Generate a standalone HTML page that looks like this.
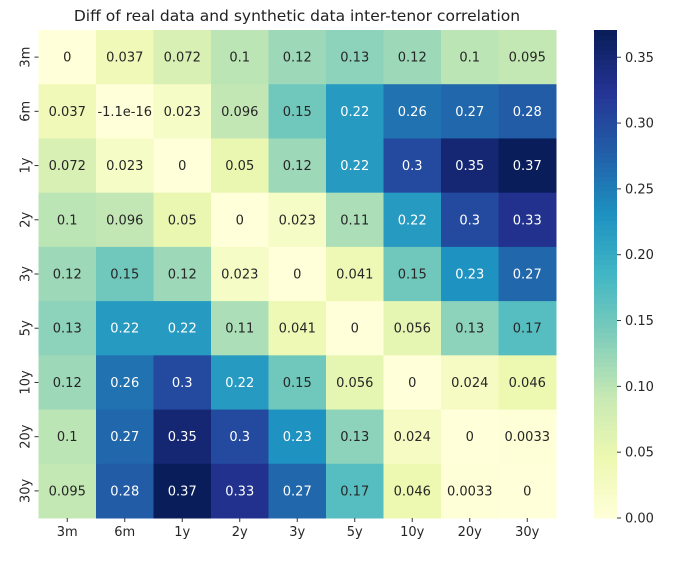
<!DOCTYPE html>
<html><head><meta charset="utf-8"><style>
body{margin:0;background:#fff;}
svg text{font-family:"DejaVu Sans","Liberation Sans",sans-serif;}
</style></head><body>
<svg id="chart" width="675" height="558" xmlns="http://www.w3.org/2000/svg">
<text x="297" y="21" font-size="15.5" text-anchor="middle" fill="#222">Diff of real data and synthetic data inter-tenor correlation</text>
<g id="cells"></g><g id="cbar"></g>
</svg>
<script>
const labels=["3m","6m","1y","2y","3y","5y","10y","20y","30y"];
const values=[
[0,0.037,0.072,0.1,0.12,0.13,0.12,0.1,0.095],
[0.037,-1.1e-16,0.023,0.096,0.15,0.22,0.26,0.27,0.28],
[0.072,0.023,0,0.05,0.12,0.22,0.3,0.35,0.37],
[0.1,0.096,0.05,0,0.023,0.11,0.22,0.3,0.33],
[0.12,0.15,0.12,0.023,0,0.041,0.15,0.23,0.27],
[0.13,0.22,0.22,0.11,0.041,0,0.056,0.13,0.17],
[0.12,0.26,0.3,0.22,0.15,0.056,0,0.024,0.046],
[0.1,0.27,0.35,0.3,0.23,0.13,0.024,0,0.0033],
[0.095,0.28,0.37,0.33,0.27,0.17,0.046,0.0033,0]];
const cbTicks=[0,0.05,0.1,0.15,0.2,0.25,0.3,0.35];
const vmin=0,vmax=0.3707;
const L=38.5,R=556,T=30,B=518;
const cw=(R-L)/labels.length,ch=(B-T)/labels.length;
const stops=["#ffffd9","#edf8b1","#c7e9b4","#7fcdbb","#41b6c4","#1d91c0","#225ea8","#253494","#081d58"].map(h=>[1,3,5].map(i=>parseInt(h.substr(i,2),16)));
function cmap(v){let t=Math.max(0,Math.min(1,(v-vmin)/(vmax-vmin)))*(stops.length-1);let i=Math.min(Math.floor(t),stops.length-2),f=t-i;return stops[i].map((c,k)=>Math.round(c+(stops[i+1][k]-c)*f));}
function lum(c){const r=c.map(x=>{x/=255;return x<=0.03928?x/12.92:Math.pow((x+0.055)/1.055,2.4)});return 0.2126*r[0]+0.7152*r[1]+0.0722*r[2];}
function fmt(v){if(v===0)return"0";if(Math.abs(v)<1e-10)return"-1.1e-16";return String(parseFloat(v.toPrecision(2)));}
const NS="http://www.w3.org/2000/svg";
function mk(tag,attrs,parent,text){const e=document.createElementNS(NS,tag);for(const k in attrs)e.setAttribute(k,attrs[k]);if(text!==undefined)e.textContent=text;parent.appendChild(e);return e;}
const g=document.getElementById("cells");
values.forEach((row,i)=>row.forEach((v,j)=>{
 const c=cmap(v);
 const r=mk("rect",{x:L+j*cw,y:T+i*ch,width:cw+0.5,height:ch+0.5,fill:`rgb(${c})`},g);
 
 
 const t=mk("text",{x:L+(j+0.5)*cw,y:T+(i+0.5)*ch+4.5,"font-size":"13","text-anchor":"middle",fill:lum(c)>0.3?"#262626":"#fff"},g,fmt(v));
 
 
}));
labels.forEach((lb,k)=>{
 const x=L+(k+0.5)*cw;
 mk("line",{x1:x,x2:x,y1:B,y2:B+4,stroke:"#333"},g);
 const t=mk("text",{x:x,y:B+18,"font-size":"13","text-anchor":"middle",fill:"#262626"},g,lb);
 
 
 const y=T+(k+0.5)*ch;
 mk("line",{x1:L-4,x2:L,y1:y,y2:y,stroke:"#333"},g);
 const t2=mk("text",{x:0,y:0,"font-size":"13","text-anchor":"middle",fill:"#262626",transform:`translate(${L-9},${y}) rotate(-90)`},g,lb);
 
 
});
const cb=document.getElementById("cbar");
const CX=594,CW=23;
const n=100;
for(let i=0;i<n;i++){const v=vmin+(vmax-vmin)*(i+0.5)/n;const y=B-(i+1)*(B-T)/n;
 const r=mk("rect",{x:CX,y:y,width:CW,height:(B-T)/n+0.6,fill:`rgb(${cmap(v)})`},cb);
 
 }
cbTicks.forEach(v=>{const y=B-(v-vmin)/(vmax-vmin)*(B-T);
 mk("line",{x1:CX+CW,x2:CX+CW+4,y1:y,y2:y,stroke:"#333"},cb);
 const t=mk("text",{x:CX+CW+8,y:y+4.5,"font-size":"13","fill":"#262626"},cb,v.toFixed(2));
 
 });
</script>
</body></html>
